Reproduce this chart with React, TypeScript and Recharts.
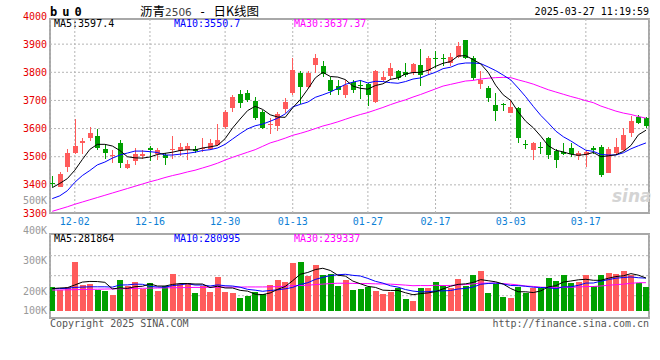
import React from 'react';
import { ComposedChart, Bar, Line, XAxis, YAxis, CartesianGrid } from 'recharts';

const dates = [
  '11-27','11-28','11-29','12-02','12-03','12-04','12-05','12-06','12-09','12-10',
  '12-11','12-12','12-13','12-16','12-17','12-18','12-19','12-20','12-23','12-24',
  '12-25','12-26','12-27','12-30','12-31','01-02','01-03','01-06','01-07','01-08',
  '01-09','01-10','01-13','01-14','01-15','01-16','01-17','01-20','01-21','01-22',
  '01-23','01-24','01-27','02-05','02-06','02-07','02-10','02-11','02-12','02-13',
  '02-14','02-17','02-18','02-19','02-20','02-21','02-24','02-25','02-26','02-27',
  '02-28','03-03','03-04','03-05','03-06','03-07','03-10','03-11','03-12','03-13',
  '03-14','03-17','03-18','03-19','03-20','03-21','03-24','03-25','03-26','03-27',
];

const openP = [
  3407,3393,3465,3513,3548,3568,3572,3529,3503,3550,
  3460,3483,3504,3532,3508,3505,3523,3519,3523,3529,
  3528,3529,3543,3607,3672,3723,3726,3699,3658,3615,
  3609,3669,3726,3798,3747,3825,3822,3773,3750,3718,
  3766,3756,3759,3696,3774,3786,3804,3802,3798,3825,
  3804,3850,3850,3832,3856,3914,3852,3760,3744,3684,
  3689,3656,3672,3546,3523,3535,3568,3520,3517,3532,
  3502,3505,3532,3535,3443,3514,3523,3586,3640,3636,
];
const highP = [
  3433,3447,3529,3633,3565,3607,3597,3541,3523,3559,
  3487,3532,3523,3538,3531,3514,3573,3550,3550,3538,
  3568,3562,3615,3666,3720,3738,3738,3711,3666,3639,
  3658,3708,3849,3804,3804,3864,3840,3783,3774,3771,
  3771,3771,3762,3808,3804,3834,3808,3832,3834,3884,
  3858,3876,3864,3870,3906,3916,3858,3804,3750,3726,
  3692,3702,3678,3559,3553,3553,3571,3529,3547,3547,
  3519,3523,3538,3541,3535,3568,3601,3645,3648,3642,
];
const lowP = [
  3392,3391,3445,3508,3511,3555,3525,3493,3479,3459,
  3455,3469,3493,3483,3490,3472,3493,3502,3490,3514,
  3517,3523,3538,3598,3658,3672,3694,3631,3598,3579,
  3591,3654,3720,3687,3744,3798,3783,3720,3720,3708,
  3726,3706,3681,3690,3768,3774,3771,3783,3792,3753,
  3792,3814,3822,3822,3852,3846,3774,3742,3693,3627,
  3663,3654,3547,3526,3490,3511,3493,3460,3505,3499,
  3487,3465,3511,3429,3441,3511,3520,3570,3618,3601,
];
const closeP = [
  3404,3439,3514,3537,3557,3583,3531,3513,3506,3477,
  3475,3511,3508,3523,3525,3495,3529,3536,3538,3520,
  3532,3547,3561,3658,3712,3690,3700,3637,3601,3617,
  3651,3694,3808,3747,3798,3852,3795,3732,3736,3754,
  3738,3753,3718,3804,3783,3816,3778,3790,3828,3790,
  3849,3847,3846,3856,3893,3852,3778,3771,3708,3663,
  3682,3676,3565,3543,3550,3532,3505,3487,3511,3511,
  3513,3517,3523,3435,3529,3533,3577,3628,3621,3610,
];

const ma5 = [
  3390,3405,3422,3452,3490,3526,3544,3544,3538,3522,
  3500,3496,3495,3499,3508,3512,3516,3522,3525,3524,
  3531,3535,3540,3564,3602,3634,3664,3679,3668,3649,
  3641,3640,3674,3703,3740,3780,3800,3785,3783,3774,
  3751,3743,3740,3753,3759,3775,3780,3794,3799,3800,
  3807,3821,3832,3838,3858,3859,3845,3830,3800,3754,
  3720,3700,3659,3626,3603,3573,3539,3523,3517,3509,
  3505,3508,3515,3500,3503,3507,3519,3540,3578,3594,
];
const ma10 = [
  3351,3361,3379,3409,3433,3451,3471,3481,3495,3506,
  3513,3520,3520,3518,3515,3506,3506,3509,3512,3516,
  3522,3525,3531,3544,3563,3582,3599,3610,3616,3626,
  3637,3652,3677,3686,3694,3711,3720,3730,3743,3757,
  3765,3771,3762,3768,3767,3763,3761,3767,3776,3780,
  3791,3800,3813,3818,3829,3833,3833,3831,3819,3806,
  3790,3773,3744,3713,3679,3647,3620,3591,3571,3556,
  3539,3523,3519,3508,3506,3506,3514,3528,3539,3549,
];
const ma30 = [
  3306,3314,3322,3331,3339,3347,3355,3363,3371,3379,
  3387,3395,3403,3411,3418,3426,3433,3439,3446,3452,
  3460,3468,3477,3488,3498,3507,3516,3525,3537,3549,
  3557,3566,3576,3583,3591,3600,3609,3616,3624,3633,
  3642,3650,3657,3666,3675,3685,3694,3702,3712,3721,
  3731,3741,3751,3757,3763,3769,3771,3776,3779,3781,
  3782,3781,3773,3766,3758,3748,3738,3730,3722,3714,
  3707,3699,3692,3680,3671,3662,3655,3650,3643,3637,
];

const volumeK = [
  213,205,213,297,220,224,203,200,188,236,
  217,230,208,227,201,217,256,223,227,193,
  217,197,246,198,192,178,184,196,190,220,
  238,231,293,296,250,286,253,256,217,236,
  203,208,213,200,190,198,209,174,167,209,
  209,230,220,211,240,218,253,267,193,222,
  181,178,214,192,209,209,244,234,253,226,
  229,253,217,253,260,257,266,253,227,213,
];
const volMa5K = [
  208,210,211,220,229.6,231.8,231.4,228.8,207,210.2,
  208.8,214.2,215.8,223.6,216.6,216.6,221.8,224.8,224.8,223.2,
  223.2,211.4,216,210.2,210,202.2,199.6,189.6,188,193.6,
  205.6,215,234.4,255.6,261.6,271.2,275.6,268.2,252.4,249.6,
  233,224,215.4,212,202.8,201.8,202,194.2,187.6,191.4,
  193.6,197.8,207,215.8,222,223.8,228.4,237.8,234.2,230.6,
  223.2,208.2,197.6,197.4,194.8,200.4,213.6,217.6,229.8,233.2,
  237.2,239,235.6,235.6,242.4,248,250.6,257.8,252.6,243.2,
];
const volMa10K = [
  208,208,209,212,213,214,214,214,213,219.9,
  220.3,222.8,222.3,215.3,213.4,212.7,218,220.3,224.2,219.9,
  219.9,216.6,220.4,217.5,216.6,212.7,205.5,202.8,199.1,201.8,
  203.9,207.3,212,221.8,227.6,238.4,245.3,251.3,254,255.6,
  252.1,249.8,241.8,232.2,226.2,217.4,213,204.8,199.8,197.1,
  197.7,199.9,200.6,201.7,206.7,208.7,213.1,222.4,225,226.3,
  223.5,218.3,217.7,215.8,212.7,211.8,210.9,207.6,213.6,214,
  218.8,226.3,226.6,232.7,237.8,242.6,244.8,246.7,244.1,242.8,
];
const volMa30K = [
  203,203.5,204,204.5,205,205.5,206,206.5,207,207.5,
  208,208.5,209,209.5,210,210.5,211,211,211.5,212,
  212,212.5,212.5,213,213,213,213.5,213.5,213.5,213.9,
  214.7,215.6,218.2,218.2,219.2,221.3,222.9,224.8,225.8,225.8,
  225.3,224.6,224.7,223.8,223.5,222.8,221.3,219.6,217.6,218.2,
  217.9,219,218.1,218.6,220.2,221.5,223.8,226.2,226.3,226.3,
  224.4,222.7,220,216.6,215.2,212.6,212.3,211.6,212.8,212.5,
  213.3,214.8,215,216.7,219.1,221,222.9,225.6,227.6,227.7,
];

const dateTickLabels = ['12-02', '12-16', '12-30', '01-13', '01-27', '02-17', '03-03', '03-17'];
const priceTicks = [3300, 3400, 3500, 3600, 3700, 3800, 3900, 4000];
const priceGrid = [3400, 3500, 3600, 3700, 3800, 3900];
const volumeTicksK = [200, 300];
const volumeExtraTicksK = [500, 400, 100];

const legendPrice = [
  { text: 'MA5:3597.4', color: '#000000' },
  { text: 'MA10:3550.7', color: '#0000ff' },
  { text: 'MA30:3637.37', color: '#ff00ff' },
];
const legendVolume = [
  { text: 'MA5:281864', color: '#000000' },
  { text: 'MA10:280995', color: '#0000ff' },
  { text: 'MA30:239337', color: '#ff00ff' },
];

const RED = '#ff5b5b';
const GREEN = '#00a000';
const MONO = '"DejaVu Sans Mono", monospace';

const rows = dates.map((d, i) => ({
  x: i,
  date: d,
  open: openP[i],
  high: highP[i],
  low: lowP[i],
  close: closeP[i],
  range: [lowP[i], highP[i]],
  up: closeP[i] >= openP[i],
  ma5: ma5[i],
  ma10: ma10[i],
  ma30: ma30[i],
  vol: volumeK[i],
  vma5: volMa5K[i],
  vma10: volMa10K[i],
  vma30: volMa30K[i],
}));

const dateTicks = dateTickLabels.map((l) => dates.indexOf(l));
const X_DOMAIN: [number, number] = [-0.3, 79.47];

// volume panel layout
const VOL_TOP = 225;
const VOL_PLOT_TOP = 234;
const VOL_PLOT_BOTTOM = 311;
const VOL_DOMAIN: [number, number] = [133.6, 389.4];
const volY = (v: number) =>
  Math.min(
    VOL_PLOT_BOTTOM,
    VOL_PLOT_TOP + ((VOL_DOMAIN[1] - v) / (VOL_DOMAIN[1] - VOL_DOMAIN[0])) * (VOL_PLOT_BOTTOM - VOL_PLOT_TOP)
  );

const CandleShape = (props: any) => {
  const { x, y, width, height, payload } = props;
  if (x == null || y == null || !payload) return null;
  const top = Math.min(y, y + height);
  const h = Math.abs(height);
  const span = payload.high - payload.low;
  const k = span > 0 ? h / span : 0;
  const py = (v: number) => top + (payload.high - v) * k;
  const color = payload.up ? RED : GREEN;
  const cx = x + width / 2;
  const bx = Math.round(cx - 2.5);
  const bTop = Math.round(py(Math.max(payload.open, payload.close)));
  const bBot = Math.round(py(Math.min(payload.open, payload.close)));
  const bH = Math.max(1, bBot - bTop);
  return (
    <g>
      <line x1={bx + 2.5} x2={bx + 2.5} y1={Math.round(top)} y2={Math.round(top + h)} stroke={color} strokeWidth={1} />
      <rect x={bx} y={bTop} width={5} height={bH} fill={color} />
    </g>
  );
};

const VolShape = (props: any) => {
  const { x, y, width, height, payload } = props;
  if (x == null || y == null || !payload) return null;
  const bx = Math.round(x + width / 2 - 3);
  const t = Math.round(Math.min(y, y + height));
  const b = Math.round(Math.max(y, y + height));
  return <rect x={bx} y={t} width={6} height={Math.max(1, b - t)} fill={payload.up ? RED : GREEN} />;
};

const Txt = ({ left, right, cy, color, size = 10, lh = 12, family = MONO, style, children }: any) => (
  <div
    style={{
      position: 'absolute',
      left,
      right,
      top: cy - lh / 2,
      fontSize: size,
      lineHeight: `${lh}px`,
      color,
      fontFamily: family,
      whiteSpace: 'nowrap',
      textAlign: right != null ? 'right' : 'left',
      ...style,
    }}
  >
    {children}
  </div>
);

export default function App() {
  return (
    <div style={{ position: 'absolute', left: 0, top: 0, width: 660, height: 360, background: '#fff', overflow: 'hidden' }}>
      {/* frames */}
      <div style={{ position: 'absolute', left: 49, top: 18, width: 601, height: 196, border: '2px solid #a8a8a8', boxSizing: 'border-box' }} />
      <div style={{ position: 'absolute', left: 49, top: 233, width: 601, height: 86, border: '2px solid #a8a8a8', boxSizing: 'border-box' }} />

      {/* header */}
      <Txt left={50} cy={11.5} color="#000" size={12} lh={14} style={{ fontWeight: 'bold', letterSpacing: '5px' }}>bu0</Txt>
      <div style={{ position: 'absolute', left: 140, top: 3, fontSize: 12.5, lineHeight: '16px', fontFamily: '"Noto Sans CJK SC", sans-serif', color: '#000', whiteSpace: 'nowrap' }}>
        沥青<span style={{ fontFamily: '"DejaVu Sans", sans-serif', fontSize: 10.5, color: '#444' }}>2506</span>
        <span style={{ fontFamily: MONO, fontSize: 12 }}> - </span>日K线图
      </div>
      <Txt right={11} cy={12} color="#000">2025-03-27 11:19:59</Txt>

      {/* sina watermark */}
      <div style={{ position: 'absolute', left: 612, top: 186, fontSize: 17, fontWeight: 'bold', fontStyle: 'italic', color: '#d4d4d4', fontFamily: '"DejaVu Sans", sans-serif', lineHeight: '20px' }}>sina</div>

      {/* price chart */}
      <div style={{ position: 'absolute', left: 0, top: 0 }}>
        <ComposedChart width={660} height={235} data={rows} margin={{ top: 16, right: 10.5, bottom: 0, left: 0 }}>
          <CartesianGrid
            y={19}
            height={194}
            horizontalValues={priceGrid}
            stroke="#b4b4b4"
            strokeDasharray="2 2"
          />
          <XAxis
            type="number"
            dataKey="x"
            domain={X_DOMAIN}
            allowDataOverflow
            ticks={dateTicks}
            tickFormatter={(v: number) => dates[v]}
            height={22}
            tickLine={false}
            axisLine={false}
            tickSize={0}
            tickMargin={5}
            interval={0}
            tick={{ fill: '#0d7fd6', fontSize: 10, fontFamily: MONO }}
          />
          <YAxis
            type="number"
            domain={[3300, 4000]}
            allowDataOverflow
            ticks={priceTicks}
            width={50}
            tickLine={false}
            axisLine={false}
            tickSize={0}
            tickMargin={3}
            interval={0}
            tick={{ fill: '#e60000', fontSize: 10, fontFamily: MONO }}
          />
          <Bar dataKey="range" barSize={6} shape={CandleShape} isAnimationActive={false} />
          <Line type="linear" dataKey="ma30" stroke="#ff00ff" strokeWidth={1} dot={false} activeDot={false} isAnimationActive={false} />
          <Line type="linear" dataKey="ma10" stroke="#0000ff" strokeWidth={1} dot={false} activeDot={false} isAnimationActive={false} />
          <Line type="linear" dataKey="ma5" stroke="#000000" strokeWidth={1} dot={false} activeDot={false} isAnimationActive={false} />
        </ComposedChart>
      </div>

      {/* volume chart */}
      <div style={{ position: 'absolute', left: 0, top: VOL_TOP }}>
        <ComposedChart width={660} height={95} data={rows} margin={{ top: VOL_PLOT_TOP - VOL_TOP, right: 10.5, bottom: 0, left: 0 }}>
          <CartesianGrid
            y={VOL_PLOT_TOP - VOL_TOP}
            height={84}
            horizontalPoints={[30.7, 50.7, 70.7]}
            stroke="#b4b4b4"
            strokeDasharray="2 2"
          />
          <XAxis
            type="number"
            dataKey="x"
            domain={X_DOMAIN}
            allowDataOverflow
            ticks={dateTicks}
            height={95 - (VOL_PLOT_BOTTOM - VOL_TOP)}
            tick={false}
            tickLine={false}
            axisLine={false}
            interval={0}
          />
          <YAxis
            type="number"
            domain={VOL_DOMAIN}
            allowDataOverflow
            ticks={volumeTicksK}
            tickFormatter={(v: number) => `${v}K`}
            width={50}
            tickLine={false}
            axisLine={false}
            tickSize={0}
            tickMargin={3}
            interval={0}
            tick={{ fill: '#999999', fontSize: 10, fontFamily: MONO }}
          />
          <Bar dataKey="vol" barSize={6} shape={VolShape} isAnimationActive={false} />
          <Line type="linear" dataKey="vma30" stroke="#ff00ff" strokeWidth={1} dot={false} activeDot={false} isAnimationActive={false} />
          <Line type="linear" dataKey="vma10" stroke="#0000ff" strokeWidth={1} dot={false} activeDot={false} isAnimationActive={false} />
          <Line type="linear" dataKey="vma5" stroke="#000000" strokeWidth={1} dot={false} activeDot={false} isAnimationActive={false} />
        </ComposedChart>
      </div>

      {/* volume labels outside the plotted range */}
      {volumeExtraTicksK.map((v) => (
        <Txt key={v} right={613} cy={v > VOL_DOMAIN[1] ? VOL_PLOT_TOP + ((VOL_DOMAIN[1] - v) / (VOL_DOMAIN[1] - VOL_DOMAIN[0])) * (VOL_PLOT_BOTTOM - VOL_PLOT_TOP) : volY(v)} color="#999999">
          {`${v}K`}
        </Txt>
      ))}

      {/* legends */}
      {legendPrice.map((l, i) => (
        <Txt key={l.text} left={54 + i * 120} cy={24} color={l.color}>{l.text}</Txt>
      ))}
      {legendVolume.map((l, i) => (
        <Txt key={l.text} left={54 + i * 120} cy={238.7} color={l.color}>{l.text}</Txt>
      ))}

      {/* footer */}
      <Txt left={50} cy={323.7} color="#555">Copyright 2025 SINA.COM</Txt>
      <Txt right={11} cy={323.7} color="#555">http://finance.sina.com.cn</Txt>
    </div>
  );
}
